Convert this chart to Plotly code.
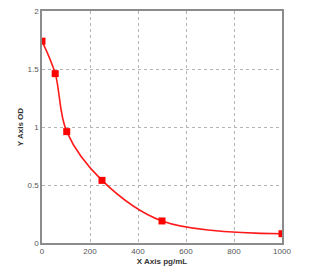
import plotly.graph_objects as go

conc = [0, 55, 103, 250, 500, 1000]
od = [1.74, 1.46, 0.96, 0.54, 0.19, 0.08]
x_ticks = [0, 200, 400, 600, 800, 1000]
y_ticks = [0, 0.5, 1, 1.5, 2]
y_tick_text = ["0", "0.5", "1", "1.5", "2"]

fig = go.Figure()
fig.add_trace(go.Scatter(x=conc, y=od, mode="lines", line=dict(color="#ff1a1a", width=1.6, shape="spline", smoothing=1.0),
                         hoverinfo="skip", showlegend=False))
fig.add_trace(go.Scatter(x=conc, y=od, mode="markers", marker=dict(color="#ff0000", size=7, symbol="square"),
                         showlegend=False))

axis_common = dict(showline=True, linecolor="#8c8c8c", linewidth=1.5, mirror=True,
                   showgrid=True, gridcolor="#b4b4b4", griddash="dot", gridwidth=1, automargin=False,
                   zeroline=False, ticks="", tickfont=dict(family="Liberation Sans, Arial", size=8, color="#555555"))
fig.update_xaxes(range=[0, 1000], tickvals=x_ticks, **axis_common,
                 title=dict(text="<b>X Axis pg/mL</b>", font=dict(family="Liberation Sans, Arial", size=8, color="#333333"), standoff=3))
fig.update_yaxes(range=[0, 2], tickvals=y_ticks, ticktext=y_tick_text, **axis_common,
                 title=dict(text="<b>Y Axis OD</b>", font=dict(family="Liberation Sans, Arial", size=8, color="#333333"), standoff=3))

fig.update_layout(width=321, height=270, margin=dict(l=42, r=39, t=11, b=27),
                  paper_bgcolor="white", plot_bgcolor="white")
fig.write_html("out.html")
